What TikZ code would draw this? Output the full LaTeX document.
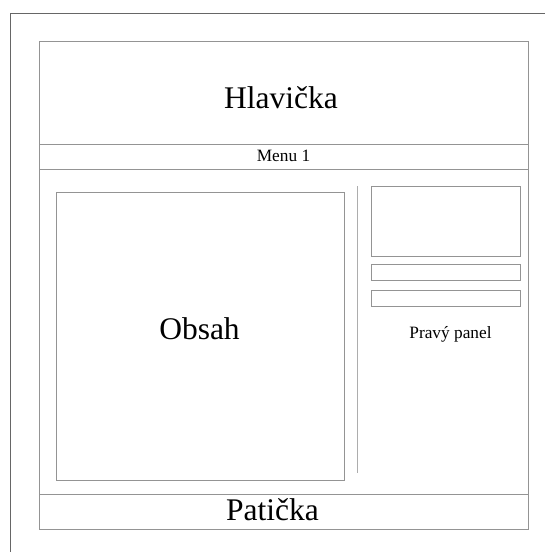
\documentclass[tikz,border=0pt]{standalone}
\usepackage{fontspec}
\setmainfont{Liberation Serif}
\begin{document}
\begin{tikzpicture}[x=1pt,y=-1pt,
  frame/.style={draw=black!60,line width=0.8pt},
  box/.style={draw=black!42,line width=0.95pt},
  big/.style={font=\fontsize{31.5}{36}\selectfont,inner sep=0pt,anchor=base},
  small/.style={font=\fontsize{17.3}{20}\selectfont,inner sep=0pt,anchor=base}]
\useasboundingbox (0,0) rectangle (545,552);
% outer frame (partly visible)
\draw[frame] (10,552) -- (10,13) -- (545,13);
% page box
\draw[box] (39,41) rectangle (528,529);
\draw[box] (39,144) -- (528,144);
\draw[box] (39,169.5) -- (528,169.5);
\draw[box] (39,494) -- (528,494);
% content box
\draw[box] (56,192) rectangle (344,480);
% separator
\draw[box,draw=black!32] (357,186) -- (357,473);
% right panel boxes
\draw[box] (371,186) rectangle (520,256);
\draw[box] (371,264.5) rectangle (520,280.5);
\draw[box] (371,290) rectangle (520,306);
% texts
\node[big] (hl) at (281,108) {Hlavička};
\node[small] (menu) at (283.5,161.7) {Menu 1};
\node[big] (obsah) at (199.5,339.5) {Obsah};
\node[small] (panel) at (450.5,338) {Pravý panel};
\node[big] (pat) at (272.5,520) {Patička};
\end{tikzpicture}
\end{document}
